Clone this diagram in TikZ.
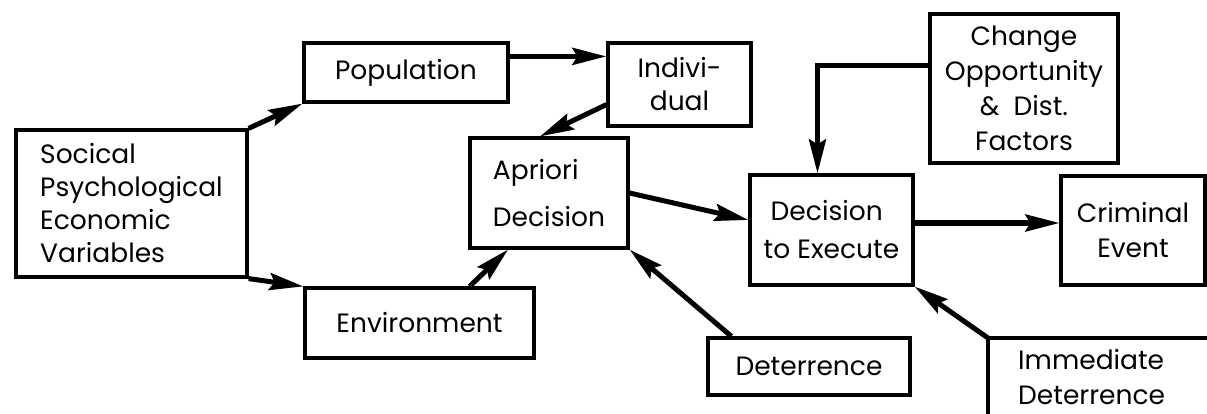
\documentclass[tikz,border=0pt]{standalone}
\usepackage{fontspec}
\setmainfont{Poppins}
\usetikzlibrary{arrows.meta,calc}
\begin{document}
\begin{tikzpicture}[x=1pt,y=-1pt,
  boxline/.style={line width=3.2pt},
  box/.style={draw, boxline, inner sep=0pt,
    font=\fontsize{26.5}{33}\selectfont},
  flow/.style={line width=5pt,
    -{Stealth[length=34pt,width=17pt,inset=5pt]}},
]
\useasboundingbox (0,0) rectangle (1207,414);
\fill[white] (0,0) rectangle (1207,414);
\clip (0,0) rectangle (1207,414);

% boxes (centre and size on the page grid)
\node[box, minimum width=231pt, minimum height=147pt, align=left]
  (soc) at (131.5,203.5) {Socical\\Psychological\\Economic\\Variables};
\node[box, minimum width=204pt, minimum height=59pt]
  (pop) at (406,72.5) {Population};
\node[box, minimum width=143pt, minimum height=83pt, align=center]
  (ind) at (679.5,84.5) {Indivi-\\dual};
\node[box, minimum width=158pt, minimum height=110pt, align=left]
  (apr) at (549,193) {Apriori\\[14pt]Decision};
\node[box, minimum width=229pt, minimum height=70pt]
  (env) at (419.5,323) {Environment};
\node[box, minimum width=163pt, minimum height=110pt, align=left]
  (dec) at (831.5,230) {\hspace*{7pt}Decision\\[5pt]to Execute};
\node[box, minimum width=188pt, minimum height=149pt, align=center,
  font=\fontsize{26.5}{35}\selectfont]
  (chg) at (1024,88.5) {Change\\Opportunity\\\&\ \ Dist.\\Factors};
\node[box, minimum width=144pt, minimum height=109pt, align=center,
  font=\fontsize{26.5}{35}\selectfont]
  (cri) at (1133,230.5) {Criminal\\Event};
\node[box, minimum width=202pt, minimum height=57pt]
  (det) at (809,366.5) {Deterrence};
% this box runs on past the right and bottom edges of the page
\node[anchor=north west, align=left, inner xsep=30pt, inner ysep=11pt,
  text width=300pt, text depth=40pt, font=\fontsize{26.5}{35}\selectfont]
  (imm) at (988,338) {Immediate\\Deterrence};
\draw[boxline] (imm.south west) |- (imm.north east);

% connectors
\draw[flow] (soc.north east) -- (pop.south west);
\draw[flow] (soc.south east) -- (env.north west);
\draw[flow] ([yshift=-15pt]pop.north east) -- ([yshift=-15pt]pop.north east -| ind.west);
\draw[flow] ([yshift=23pt]ind.south west) -- ([xshift=-9pt]apr.north);
\draw[flow] ([xshift=-66pt]env.north east) -- ([xshift=-41pt]apr.south);
\draw[flow] (apr.east) -- ([yshift=10pt]dec.west);
\draw[flow] ([yshift=7pt]dec.east) -- ([yshift=7pt]dec.east -| cri.west);
\draw[flow] ([xshift=25pt]det.north west) -- (apr.south east);
\draw[flow] (imm.north west) -- (dec.south east);
\draw[flow] ([yshift=23pt]chg.west) -| ([xshift=-14pt]dec.north);
\end{tikzpicture}
\end{document}
